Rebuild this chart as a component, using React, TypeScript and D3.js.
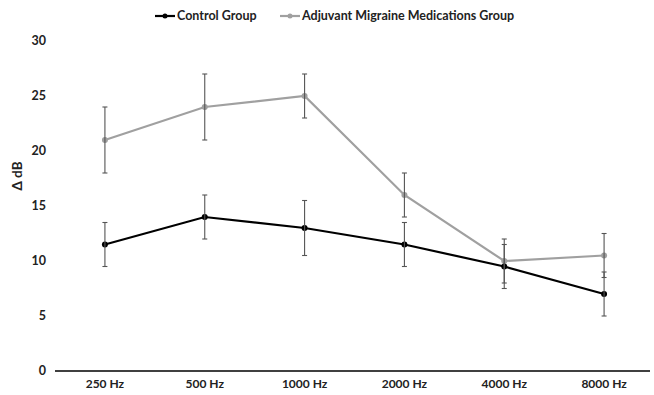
import { useEffect, useRef } from "react";
import * as d3 from "d3";

const categories = ["250 Hz", "500 Hz", "1000 Hz", "2000 Hz", "4000 Hz", "8000 Hz"];
const controlMean = [11.5, 14, 13, 11.5, 9.5, 7];
const controlErr = [2, 2, 2.5, 2, 2, 2];
const migraineMean = [21, 24, 25, 16, 10, 10.5];
const migraineErr = [3, 3, 2, 2, 2, 2];
const yTicks = [0, 5, 10, 15, 20, 25, 30];

const seriesList = [
  { name: "Control Group", mean: controlMean, err: controlErr, color: "#000000" },
  { name: "Adjuvant Migraine Medications Group", mean: migraineMean, err: migraineErr, color: "#a0a0a0" },
];

const App = () => {
  const svgRef = useRef<SVGSVGElement>(null);

  useEffect(() => {
    document.body.style.margin = "0";
    const svg = d3.select(svgRef.current);
    svg.selectAll("*").remove();

    const width = 654;
    const height = 395;
    const margin = { top: 41, right: 0, bottom: 24, left: 55 };
    const font = "Lato, 'Open Sans', sans-serif";

    const x = d3
      .scaleBand()
      .domain(categories)
      .range([margin.left, width - margin.right]);
    const y = d3
      .scaleLinear()
      .domain([0, 30])
      .range([height - margin.bottom, margin.top]);
    const cx = (i: number) => (x(categories[i]) as number) + x.bandwidth() / 2;

    // y tick labels
    svg
      .append("g")
      .selectAll("text")
      .data(yTicks)
      .enter()
      .append("text")
      .attr("x", 46)
      .attr("y", (d) => y(d))
      .attr("dy", "0.35em")
      .attr("text-anchor", "end")
      .attr("font-family", font)
      .attr("font-weight", "bold")
      .attr("font-size", "12.5px")
      .attr("fill", "#222")
      .text((d) => d);

    // y title
    svg
      .append("text")
      .attr("transform", "translate(22, 176) rotate(-90)")
      .attr("text-anchor", "middle")
      .attr("font-family", font)
      .attr("font-weight", "bold")
      .attr("font-size", "13.5px")
      .attr("fill", "#222")
      .text("Δ dB");

    // x axis line
    svg
      .append("line")
      .attr("x1", margin.left)
      .attr("x2", 650)
      .attr("y1", y(0))
      .attr("y2", y(0))
      .attr("stroke", "#000")
      .attr("stroke-width", 1.5);

    // x labels
    svg
      .append("g")
      .selectAll("text")
      .data(categories)
      .enter()
      .append("text")
      .attr("x", (d, i) => cx(i))
      .attr("y", y(0) + 17)
      .attr("text-anchor", "middle")
      .attr("font-family", font)
      .attr("font-weight", "bold")
      .attr("font-size", "12px")
      .attr("fill", "#222")
      .text((d) => d);

    const line = d3
      .line<number>()
      .x((d, i) => cx(i))
      .y((d) => y(d));

    // lines + markers, black on top
    [seriesList[1], seriesList[0]].forEach((s) => {
      svg
        .append("path")
        .datum(s.mean)
        .attr("d", line)
        .attr("fill", "none")
        .attr("stroke", s.color)
        .attr("stroke-width", 2.2);
      svg
        .append("g")
        .selectAll("circle")
        .data(s.mean)
        .enter()
        .append("circle")
        .attr("cx", (d, i) => cx(i))
        .attr("cy", (d) => y(d))
        .attr("r", 3)
        .attr("fill", s.color);
    });

    // error bars
    seriesList.forEach((s) => {
      const g = svg.append("g").attr("stroke", "#555").attr("stroke-width", 1.1);
      s.mean.forEach((m, i) => {
        const hi = y(m + s.err[i]);
        const lo = y(m - s.err[i]);
        g.append("line").attr("x1", cx(i)).attr("x2", cx(i)).attr("y1", hi).attr("y2", lo);
        g.append("line").attr("x1", cx(i) - 2.5).attr("x2", cx(i) + 2.5).attr("y1", hi).attr("y2", hi);
        g.append("line").attr("x1", cx(i) - 2.5).attr("x2", cx(i) + 2.5).attr("y1", lo).attr("y2", lo);
      });
    });

    // legend
    const legendX = [155, 280];
    seriesList.forEach((s, k) => {
      const lg = svg.append("g").attr("transform", `translate(${legendX[k]}, 16)`);
      lg.append("line")
        .attr("x1", 0)
        .attr("x2", 20)
        .attr("stroke", s.color)
        .attr("stroke-width", 2.2);
      lg.append("circle").attr("cx", 10).attr("r", 2.5).attr("fill", s.color);
      lg.append("text")
        .attr("x", 22)
        .attr("dy", "0.35em")
        .attr("font-family", font)
        .attr("font-weight", "bold")
        .attr("font-size", "12.5px")
        .attr("fill", "#222")
        .text(s.name);
    });
  }, []);

  return <svg ref={svgRef} width={654} height={395} style={{ display: "block", background: "#fff" }}></svg>;
};

export default App;
